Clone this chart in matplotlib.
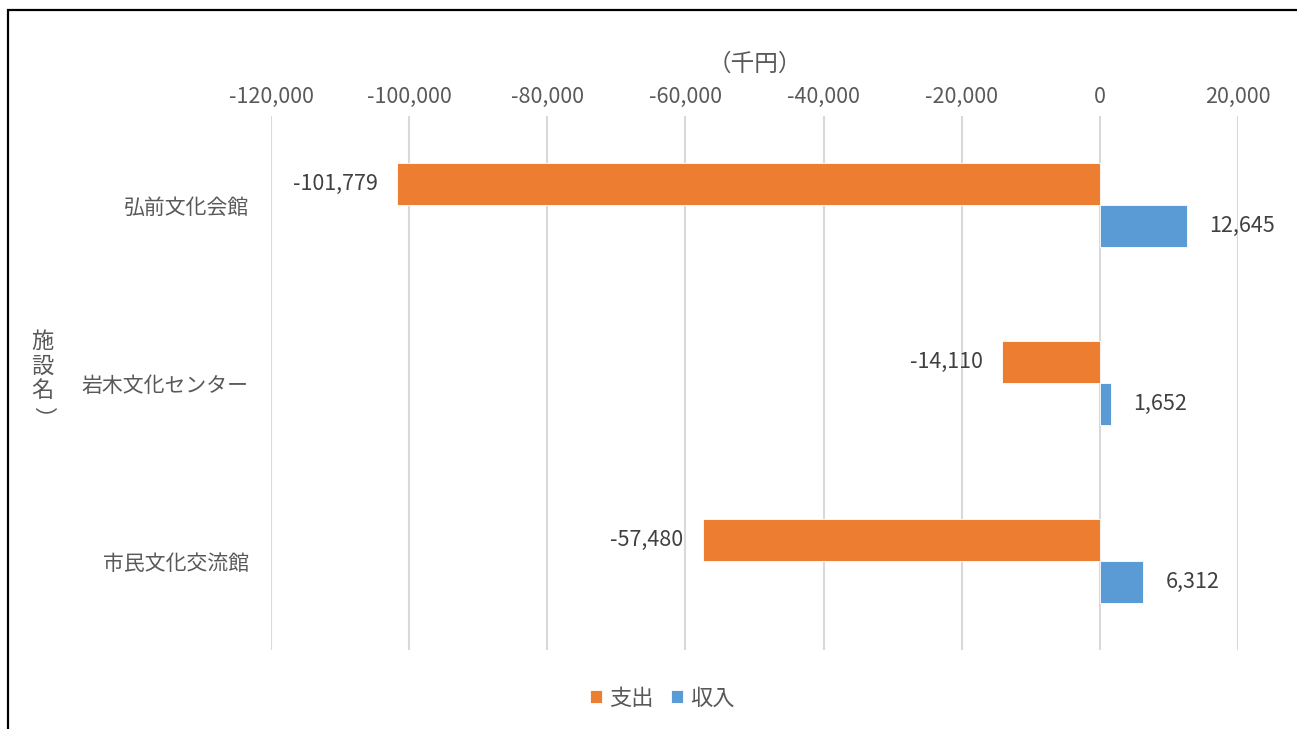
import matplotlib
matplotlib.use("Agg")
import matplotlib.pyplot as plt
from matplotlib.patches import Rectangle
from matplotlib.ticker import FuncFormatter
import numpy as np

plt.rcParams['font.family'] = ['Noto Sans CJK JP', 'DejaVu Sans']

facilities = ["弘前文化会館", "岩木文化センター", "市民文化交流館"]
expense = [-101779, -14110, -57480]   # 支出
income = [12645, 1652, 6312]          # 収入
xticks = [-120000, -100000, -80000, -60000, -40000, -20000, 0, 20000]

orange = "#ED7D31"
blue = "#5B9BD5"
gray = "#595959"

fig = plt.figure(figsize=(12.97, 7.29), dpi=100)
ax = fig.add_axes([271/1297, 1 - 650/729, (1238 - 271)/1297, (650 - 116)/729])

y = np.arange(len(facilities))
h = 0.236
b1 = ax.barh(y - h/2, expense, height=h, color=orange, edgecolor="white", linewidth=0.6, label="支出")
b2 = ax.barh(y + h/2, income, height=h, color=blue, edgecolor="white", linewidth=0.6, label="収入")

fmt = lambda v: f"{v:,.0f}"
ax.bar_label(b1, labels=[fmt(v) for v in expense], padding=14, fontsize=15.5, color="#404040")
ax.bar_label(b2, labels=[fmt(v) for v in income], padding=16, fontsize=15.5, color="#404040")

ax.set_xlim(-120000, 20000)
ax.set_ylim(len(facilities) - 0.5, -0.5)
ax.set_xticks(xticks)
ax.xaxis.set_major_formatter(FuncFormatter(lambda v, p: f"{v:,.0f}"))
ax.xaxis.tick_top()
ax.xaxis.set_label_position("top")
ax.set_yticks(y)
ax.set_yticklabels(facilities, fontsize=15)
ax.tick_params(axis="x", length=0, labelsize=15.5, colors=gray, pad=6)
ax.tick_params(axis="y", length=0, colors=gray, pad=16)
ax.set_xlabel("（千円）", fontsize=17, color=gray, labelpad=11)

ax.grid(axis="x", color="#D9D9D9", linewidth=1.5)
ax.set_axisbelow(True)
for s in ax.spines.values():
    s.set_visible(False)

# vertical y label
fig.text(42/1297, 1 - 366/729, "施\n設\n名", fontsize=16, color=gray,
         ha="center", va="center", linespacing=1.1)
fig.text(43/1297, 1 - 418/729, "）", fontsize=16, color=gray,
         ha="center", va="center", rotation=-90)

fig.legend(handles=[b1, b2], loc="center", bbox_to_anchor=(662/1297, 1 - 698/729),
           ncol=2, frameon=False, fontsize=16, handlelength=0.55, handleheight=0.55,
           handletextpad=0.3, columnspacing=0.8, labelcolor=gray)

fig.patches.append(Rectangle((8/1297, -0.1), 1.2, 1 - 10/729 + 0.1, transform=fig.transFigure,
                             fill=False, edgecolor="black", linewidth=1.6, clip_on=False))

fig.savefig("out.png", dpi=100)
